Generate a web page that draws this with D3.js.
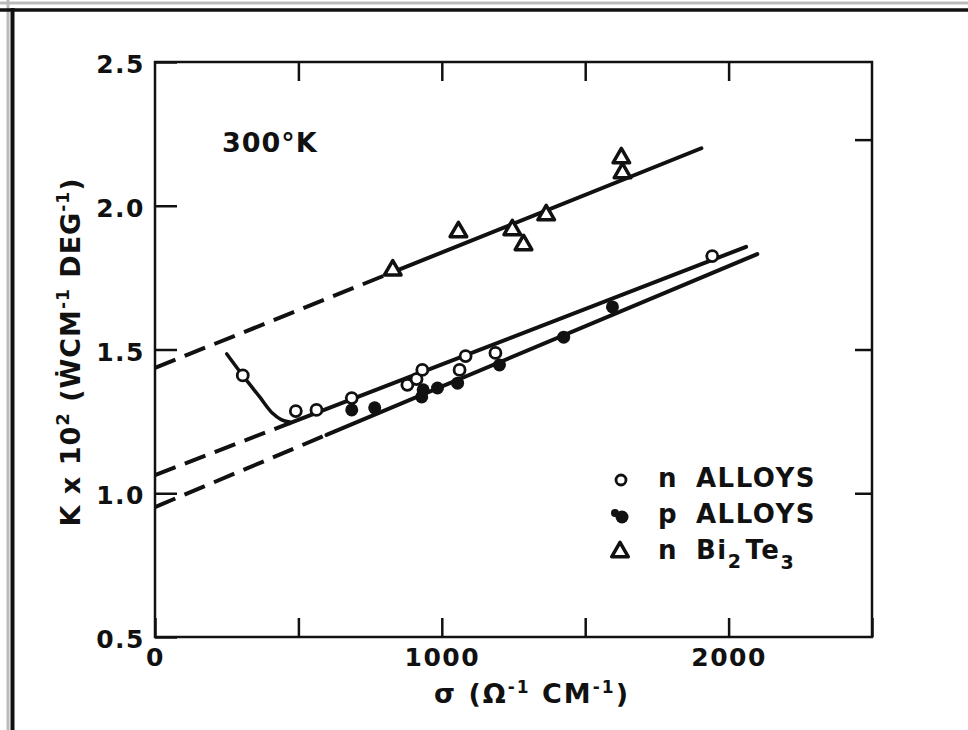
<!DOCTYPE html>
<html>
<head>
<meta charset="utf-8">
<script src="https://cdn.jsdelivr.net/npm/d3@7"></script>
<style>
  body { margin: 0; background: #fff; }
  text { font-family: "DejaVu Sans", sans-serif; font-weight: bold; fill: #111; }
</style>
</head>
<body>
<script>
// data: [sigma, K x 10^2]
const nAlloys = [[306,1.41],[491,1.286],[563,1.29],[686,1.331],[880,1.377],[912,1.397],[932,1.429],[1062,1.429],[1083,1.477],[1187,1.488],[1943,1.825]];
const pAlloys = [[686,1.29],[766,1.297],[930,1.335],[935,1.36],[985,1.366],[1055,1.383],[1201,1.446],[1425,1.543],[1595,1.648]];
const biTe = [[829,1.776],[1058,1.909],[1246,1.916],[1285,1.864],[1364,1.968],[1626,2.166],[1630,2.114]];

const biTeDashed = [[0,1.436],[829,1.769]];
const biTeSolid = [[829,1.769],[1905,2.20]];
const nDashed = [[0,1.063],[470,1.244]];
const nSolid = [[470,1.244],[2061,1.857]];
const nLowCurve = [[250,1.485],[306,1.41],[365,1.335],[410,1.278],[440,1.256],[470,1.248]];
const pDashed = [[0,0.952],[598,1.203]];
const pSolid = [[598,1.203],[2100,1.832]];

const xTicks = [0,500,1000,1500,2000,2500];
const xLabels = {0:"0",1000:"1000",2000:"2000"};
const yTicks = [2.5,2.0,1.5,1.0,0.5];
const rightTicks = [2.23,1.5,1.0];

const W = 968, H = 730;
const svg = d3.select("body").append("svg")
    .attr("width", W)
    .attr("height", H);

svg.append("rect").attr("width", W).attr("height", H).attr("fill", "#fff");

// scanned page frame
svg.append("line").attr("x1", 0).attr("x2", W).attr("y1", 3).attr("y2", 3)
    .attr("stroke", "#bbb").attr("stroke-width", 3);
svg.append("line").attr("x1", 8).attr("x2", 8).attr("y1", 0).attr("y2", H)
    .attr("stroke", "#bbb").attr("stroke-width", 3);
svg.append("line").attr("x1", 0).attr("x2", W).attr("y1", 10).attr("y2", 10)
    .attr("stroke", "#111").attr("stroke-width", 3.5);
svg.append("line").attr("x1", 12.5).attr("x2", 12.5).attr("y1", 8).attr("y2", H)
    .attr("stroke", "#111").attr("stroke-width", 4);

const x = d3.scaleLinear().domain([0, 2500]).range([155, 872]);
const y = d3.scaleLinear().domain([0.5, 2.5]).range([637, 62]);

function styleAxis(g) {
    g.select(".domain").remove();
    g.selectAll(".tick line").attr("stroke", "#111").attr("stroke-width", 2.5);
    g.selectAll("text")
        .style("font-size", "25px")
        .style("letter-spacing", "1.5px")
        .attr("fill", "#111");
}

svg.append("g").attr("transform", "translate(155,0)")
    .call(d3.axisLeft(y).tickValues(yTicks).tickSizeInner(-22).tickSizeOuter(0)
        .tickPadding(10).tickFormat(d3.format(".1f")))
    .call(styleAxis)
    .selectAll("text").attr("dy", "0.42em");

svg.append("g").attr("transform", "translate(0,637)")
    .call(d3.axisBottom(x).tickValues(xTicks).tickSizeInner(-19).tickSizeOuter(0)
        .tickPadding(11).tickFormat(d => xLabels[d] || ""))
    .call(styleAxis);

svg.append("g").attr("transform", "translate(0,62)")
    .call(d3.axisTop(x).tickValues(xTicks.slice(1, -1)).tickSizeInner(-19).tickSizeOuter(0)
        .tickFormat(""))
    .call(styleAxis);

svg.append("g").attr("transform", "translate(872,0)")
    .call(d3.axisRight(y).tickValues(rightTicks).tickSizeInner(-17).tickSizeOuter(0)
        .tickFormat(""))
    .call(styleAxis);

svg.append("rect")
    .attr("x", x(0)).attr("y", y(2.5))
    .attr("width", x(2500) - x(0)).attr("height", y(0.5) - y(2.5))
    .attr("fill", "none").attr("stroke", "#111").attr("stroke-width", 2.5);

// fitted lines
const line = d3.line().x(d => x(d[0])).y(d => y(d[1]));
const curve = d3.line().x(d => x(d[0])).y(d => y(d[1])).curve(d3.curveMonotoneX);

[biTeDashed, nDashed, pDashed].forEach(seg => {
    svg.append("path").attr("d", line(seg))
        .attr("fill", "none").attr("stroke", "#111").attr("stroke-width", 4)
        .attr("stroke-dasharray", "22,10");
});
[biTeSolid, nSolid, pSolid].forEach(seg => {
    svg.append("path").attr("d", line(seg))
        .attr("fill", "none").attr("stroke", "#111").attr("stroke-width", 4)
        .attr("stroke-linecap", "round");
});
svg.append("path").attr("d", curve(nLowCurve))
    .attr("fill", "none").attr("stroke", "#111").attr("stroke-width", 3.5)
    .attr("stroke-linecap", "round");

// points
svg.selectAll(".pp").data(pAlloys).enter().append("circle")
    .attr("cx", d => x(d[0])).attr("cy", d => y(d[1]))
    .attr("r", 6.5).attr("fill", "#111");

svg.selectAll(".np").data(nAlloys).enter().append("circle")
    .attr("cx", d => x(d[0])).attr("cy", d => y(d[1]))
    .attr("r", 5.5).attr("fill", "#fff").attr("stroke", "#111").attr("stroke-width", 2.8);

const tri = d3.symbol(d3.symbolTriangle, 120);
svg.selectAll(".tp").data(biTe).enter().append("path")
    .attr("d", tri)
    .attr("transform", d => `translate(${x(d[0])},${y(d[1])})`)
    .attr("fill", "#fff").attr("stroke", "#111").attr("stroke-width", 3.5)
    .attr("stroke-linejoin", "round");

// annotation
svg.append("text").attr("x", 222).attr("y", 152)
    .style("font-size", "27px").style("letter-spacing", "1px")
    .text("300°K");

// legend
const legend = svg.append("g").style("font-size", "26px").style("letter-spacing", "1.5px");
legend.append("circle").attr("cx", 621).attr("cy", 480).attr("r", 5)
    .attr("fill", "#fff").attr("stroke", "#111").attr("stroke-width", 2.8);
legend.append("text").attr("x", 658).attr("y", 487).text("n");
legend.append("text").attr("x", 696).attr("y", 487).text("ALLOYS");

legend.append("circle").attr("cx", 622).attr("cy", 517).attr("r", 6.5).attr("fill", "#111");
legend.append("circle").attr("cx", 615).attr("cy", 513).attr("r", 4).attr("fill", "#111");
legend.append("text").attr("x", 658).attr("y", 523).text("p");
legend.append("text").attr("x", 696).attr("y", 523).text("ALLOYS");

legend.append("path").attr("d", tri)
    .attr("transform", "translate(620,552)")
    .attr("fill", "#fff").attr("stroke", "#111").attr("stroke-width", 3.5)
    .attr("stroke-linejoin", "round");
legend.append("text").attr("x", 658).attr("y", 559).text("n");
const bi = legend.append("text").attr("x", 696).attr("y", 559);
bi.append("tspan").text("Bi");
bi.append("tspan").attr("dy", 9).style("font-size", "19px").text("2");
bi.append("tspan").attr("dy", -9).attr("dx", 3).text("Te");
bi.append("tspan").attr("dy", 10).style("font-size", "19px").text("3");

// axis titles
const xt = svg.append("text").attr("x", 532).attr("y", 703)
    .attr("text-anchor", "middle").style("font-size", "27px").style("letter-spacing", "2px");
xt.append("tspan").text("σ (Ω");
xt.append("tspan").attr("dy", -10).style("font-size", "17px").text("-1");
xt.append("tspan").attr("dy", 10).text(" CM");
xt.append("tspan").attr("dy", -10).style("font-size", "17px").text("-1");
xt.append("tspan").attr("dy", 10).text(")");

const yt = svg.append("text")
    .attr("transform", "translate(80,352) rotate(-90)")
    .attr("text-anchor", "middle").style("font-size", "27px").style("letter-spacing", "1px");
yt.append("tspan").text("K x 10");
yt.append("tspan").attr("dy", -11).style("font-size", "18px").text("2");
yt.append("tspan").attr("dy", 11).text(" (ẆCM");
yt.append("tspan").attr("dy", -11).style("font-size", "17px").text("-1");
yt.append("tspan").attr("dy", 11).text(" DEG");
yt.append("tspan").attr("dy", -11).style("font-size", "17px").text("-1");
yt.append("tspan").attr("dy", 11).text(")");
</script>
</body>
</html>
